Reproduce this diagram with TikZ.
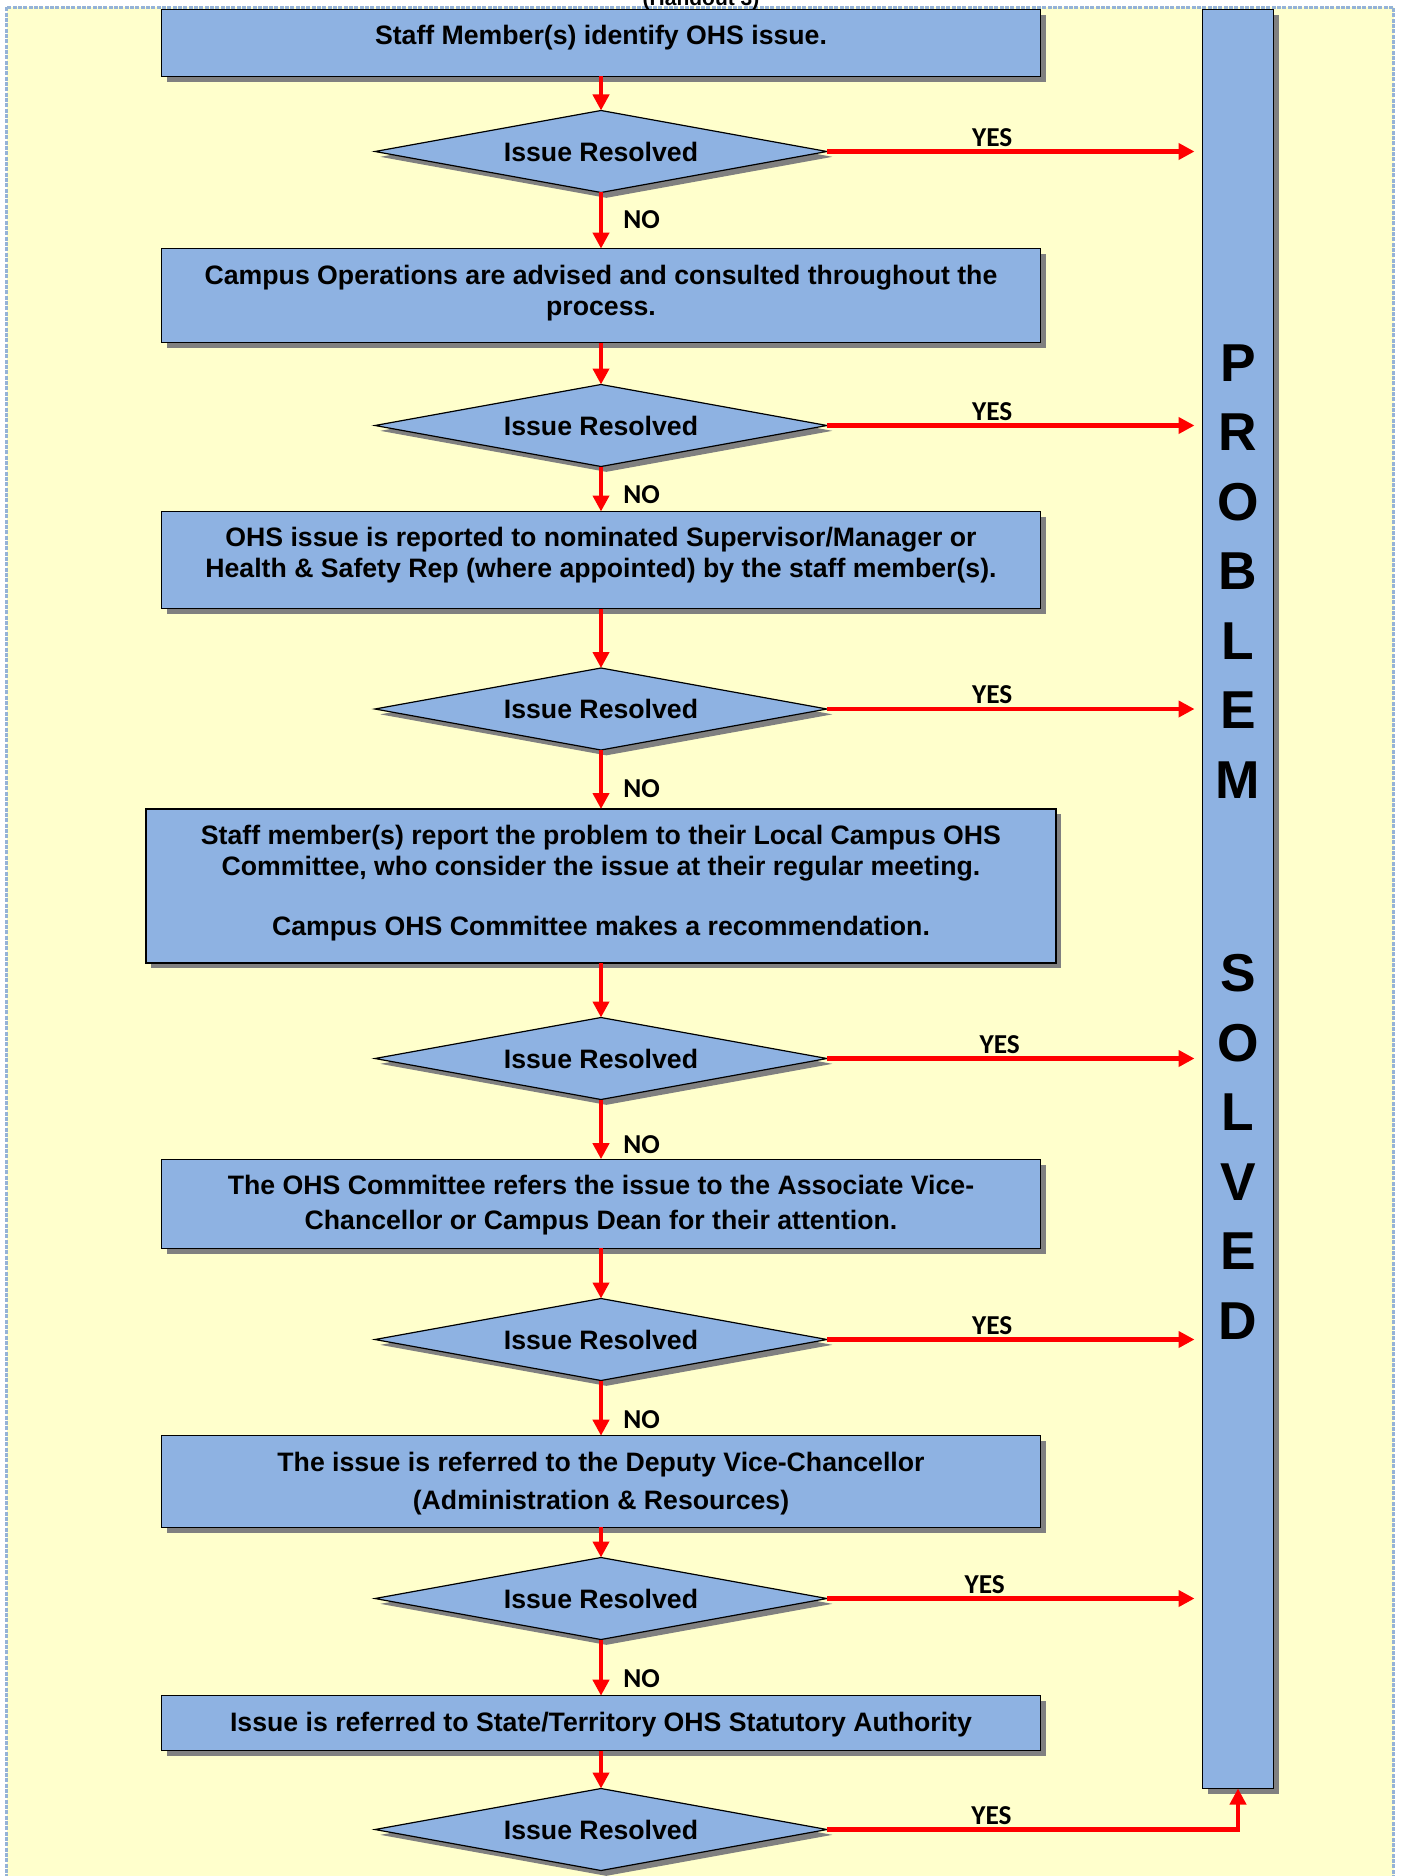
\documentclass[tikz,border=0pt]{standalone}
\usepackage{fontspec}
\setmainfont{Liberation Sans}
\newfontfamily\yesnofont{Carlito}
\usepackage{tikz}
\usetikzlibrary{arrows.meta}
\usetikzlibrary{shapes.geometric}
\usetikzlibrary{shadows}
\usetikzlibrary{calc}

\definecolor{boxblue}{RGB}{142,178,226}
\definecolor{paper}{RGB}{255,255,204}
\definecolor{framecol}{RGB}{149,179,215}
\definecolor{shadowgrey}{RGB}{128,128,128}

\tikzset{
  boxlook/.style={draw=black, line width=0.9pt, fill=boxblue, outer sep=0pt,
    drop shadow={shadow xshift=4pt, shadow yshift=-4pt, fill=shadowgrey, opacity=1}},
  stage/.style 2 args={boxlook, rectangle, minimum width=659.25pt, inner xsep=0pt, inner ysep=0pt,
    align=center, text height=#1, text depth=#2,
    font=\bfseries\fontsize{20}{23.25}\selectfont},
  decision/.style={boxlook, diamond, aspect=5.5, minimum width=339pt, minimum height=61.5pt,
    inner sep=0pt, font=\bfseries\fontsize{20}{24}\selectfont},
  flow/.style={draw=red, line width=3.5pt, -{Triangle[length=12pt,width=12pt]}},
  nolab/.style={anchor=west, inner sep=0pt, xshift=15pt,
    font=\yesnofont\bfseries\fontsize{20.5}{24}\selectfont},
  yeslab/.style={anchor=base, inner sep=0pt, yshift=4pt,
    font=\yesnofont\bfseries\fontsize{20.5}{24}\selectfont},
  letter/.style={inner sep=0pt, font=\bfseries\fontsize{40}{48}\selectfont}
}

\begin{document}
\begin{tikzpicture}[x=0.75pt, y=-0.75pt]
\useasboundingbox (0,0) rectangle (1400,1876);
\draw[fill=paper, draw=framecol, line width=2pt, dash pattern=on 3pt off 1pt] (6.5,7.5) rectangle (1393.5,1895);
\node[anchor=base, inner sep=0pt, font=\bfseries\fontsize{15.75}{18}\selectfont] (handout) at (701,5.5) {(Handout 3)};

\node[stage={26.6pt}{23.65pt}] (b1) at (601,43) {Staff Member(s) identify OHS issue.};
\node[decision] (d1) at (601,151.5) {Issue Resolved};
\node[stage={49.85pt}{20.65pt}] (b2) at (601,295.6) {Campus Operations are advised and consulted throughout the\\process.};
\node[decision] (d2) at (601,425.5) {Issue Resolved};
\node[stage={49.85pt}{22.9pt}] (b3) at (601,560) {OHS issue is reported to nominated Supervisor/Manager or\\Health \& Safety Rep (where appointed) by the staff member(s).};
\node[decision] (d3) at (601,709) {Issue Resolved};
\node[stage={94.85pt}{20.65pt}, minimum width=682.5pt] (b4) at (601,886) {Staff member(s) report the problem to their Local Campus OHS\\Committee, who consider the issue at their regular meeting.\\[21.75pt]Campus OHS Committee makes a recommendation.};
\node[decision] (d4) at (601,1058.5) {Issue Resolved};
\node[stage={52.85pt}{13.9pt}] (b5) at (601,1203.7) {The OHS Committee refers the issue to the Associate Vice-\\[3pt]Chancellor or Campus Dean for their attention.};
\node[decision] (d5) at (601,1339.5) {Issue Resolved};
\node[stage={55.1pt}{13.6pt}] (b6) at (601,1481.5) {The issue is referred to the Deputy Vice-Chancellor\\[5.25pt](Administration \& Resources)};
\node[decision] (d6) at (601,1598.5) {Issue Resolved};
\node[stage={26.6pt}{14.65pt}] (b7) at (601,1723.2) {Issue is referred to State/Territory OHS Statutory Authority};
\node[decision] (d7) at (601,1829.5) {Issue Resolved};

\node[boxlook, rectangle, minimum width=53.25pt, minimum height=1334.25pt, inner sep=0pt] (sol) at (1238,899) {};
\foreach \ltr/\ypos [count=\i] in {P/363, R/432.5, O/502, B/571.5, L/641, E/710.5, M/780,
    S/973, O/1043, L/1112.5, V/1182, E/1251.5, D/1321}
  \node[letter] (ltr\i) at (1238,\ypos) {\ltr};

\draw[flow] (b1.south) -- (d1.north);
\draw[flow] (d1.south) -- node[nolab, pos=0.49] {NO} (b2.north);
\draw[flow] (b2.south) -- (d2.north);
\draw[flow] (d2.south) -- node[nolab, pos=0.62] {NO} (b3.north);
\draw[flow] (b3.south) -- (d3.north);
\draw[flow] (d3.south) -- node[nolab, pos=0.66] {NO} (b4.north);
\draw[flow] (b4.south) -- (d4.north);
\draw[flow] (d4.south) -- node[nolab, pos=0.75] {NO} (b5.north);
\draw[flow] (b5.south) -- (d5.north);
\draw[flow] (d5.south) -- node[nolab, pos=0.70] {NO} (b6.north);
\draw[flow] (b6.south) -- (d6.north);
\draw[flow] (d6.south) -- node[nolab, pos=0.70] {NO} (b7.north);
\draw[flow] (b7.south) -- (d7.north);

\draw[flow, shorten >=6pt] (d1.east) -- node[yeslab, pos=0.44] {YES} (d1.east -| sol.west);
\draw[flow, shorten >=6pt] (d2.east) -- node[yeslab, pos=0.44] {YES} (d2.east -| sol.west);
\draw[flow, shorten >=6pt] (d3.east) -- node[yeslab, pos=0.44] {YES} (d3.east -| sol.west);
\draw[flow, shorten >=6pt] (d4.east) -- node[yeslab, pos=0.46] {YES} (d4.east -| sol.west);
\draw[flow, shorten >=6pt] (d5.east) -- node[yeslab, pos=0.44] {YES} (d5.east -| sol.west);
\draw[flow, shorten >=6pt] (d6.east) -- node[yeslab, pos=0.42] {YES} (d6.east -| sol.west);
\draw[flow] (d7.east) -| node[yeslab, pos=0.2] {YES} (sol.south);
\end{tikzpicture}
\end{document}
